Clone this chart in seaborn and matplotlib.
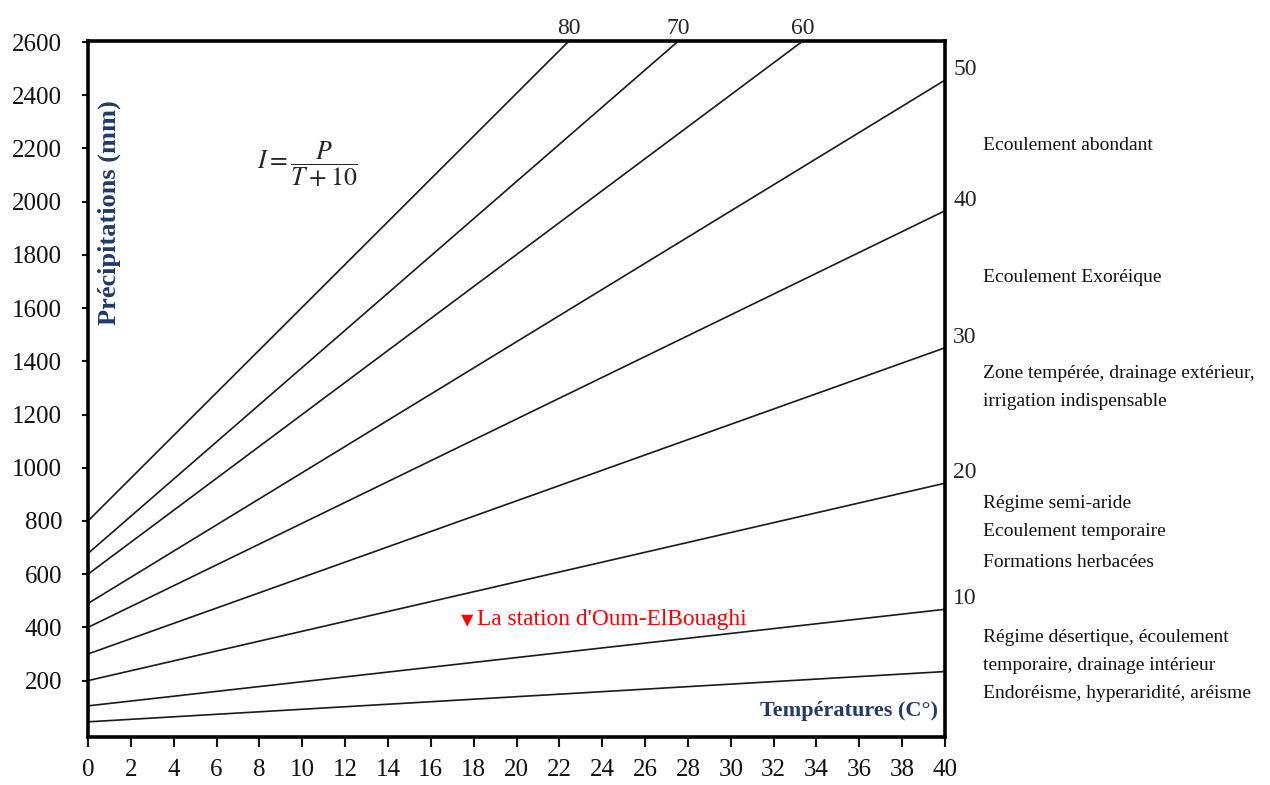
import matplotlib
matplotlib.use("Agg")
import matplotlib.pyplot as plt
import numpy as np
import pandas as pd
import seaborn as sns

# De Martonne aridity index lines (I = P / (T + 10)), each drawn between two end points
index_values = [5, 10, 20, 30, 40, 50, 60, 70, 80]
t_start = [0, 0, 0, 0, 0, 0, 0, 0, 0]
p_start = [45, 105, 200, 300, 400, 490, 600, 678, 800]
t_end = [40, 40, 40, 40, 40, 40, 33.3, 27.5, 22.4]
p_end = [234, 468, 942, 1451, 1966, 2457, 2600, 2600, 2600]

# lines labelled at the top edge and at the right edge
top_labels = [80, 70, 60]
right_labels = [50, 40, 30, 20, 10]

# station position (mean temperature, annual precipitation)
station_name = "La station d'Oum-ElBouaghi"
station_t = [17.7]
station_p = [425]

x_ticks = list(range(0, 41, 2))
y_ticks = list(range(200, 2601, 200))

# climate regime descriptions to the right of the frame (text, baseline pixel row)
regime_lines = [
    ("Ecoulement abondant", 150),
    ("Ecoulement Exoréique", 282),
    ("Zone tempérée, drainage extérieur,", 378),
    ("irrigation indispensable", 406),
    ("Régime semi-aride", 508),
    ("Ecoulement temporaire", 536),
    ("Formations herbacées", 567),
    ("Régime désertique, écoulement", 642),
    ("temporaire, drainage intérieur", 670),
    ("Endoréisme, hyperaridité, aréisme", 698),
]

sns.set_theme(style="white")
plt.rcParams["font.family"] = ["Liberation Serif", "DejaVu Serif"]
plt.rcParams["mathtext.fontset"] = "stix"

W, H = 1270, 785
fig = plt.figure(figsize=(W / 100, H / 100), dpi=100)
fig.patch.set_facecolor("white")
ax = fig.add_axes([88 / W, 1 - 737 / H, (945 - 88) / W, (737 - 41) / H])
ax.set_facecolor("white")

rows = []
for i, ts, ps, te, pe in zip(index_values, t_start, p_start, t_end, p_end):
    rows.append({"I": i, "T": ts, "P": ps})
    rows.append({"I": i, "T": te, "P": pe})
lines_df = pd.DataFrame(rows)

sns.lineplot(data=lines_df, x="T", y="P", hue="I", units="I", estimator=None,
             palette=["#1a1a1a"] * len(index_values), linewidth=1.2,
             legend=False, ax=ax)

station_df = pd.DataFrame({"T": station_t, "P": station_p})
sns.scatterplot(data=station_df, x="T", y="P", marker="v", color="#ff0000",
                s=75, edgecolor="none", ax=ax, zorder=5)
ax.annotate(station_name, xy=(station_t[0], station_p[0]), xytext=(7, -3),
            textcoords="offset points", ha="left", va="baseline",
            color="#ff0000", fontsize=16.8)

ax.set_xlim(0, 40)
ax.set_ylim(-12, 2604)
ax.set_xticks(x_ticks)
ax.set_yticks(y_ticks)
ax.set_xticklabels([str(v) for v in x_ticks], fontsize=18)
ax.set_yticklabels([str(v) for v in y_ticks], fontsize=18)
ax.tick_params(axis="x", direction="out", length=7, width=1.5, pad=8.5,
               colors="#111111", bottom=True)
ax.tick_params(axis="y", direction="out", length=4.5, width=1.5, pad=14,
               colors="#111111", left=True)
ax.set_xlabel("")
ax.set_ylabel("")
for side in ["left", "right", "top", "bottom"]:
    ax.spines[side].set_visible(True)
    ax.spines[side].set_color("black")
    ax.spines[side].set_linewidth(2.6)

# index labels at the line ends
for i, te, pe in zip(index_values, t_end, p_end):
    if i in top_labels:
        ax.annotate(str(i), xy=(te, pe), xytext=(1, 2), textcoords="offset points",
                    ha="center", va="bottom", fontsize=17, annotation_clip=False)
    elif i in right_labels:
        ax.annotate(str(i), xy=(te, pe), xytext=(6, 0), textcoords="offset points",
                    ha="left", va="bottom", fontsize=17, annotation_clip=False)

# formula
ax.text(307 / W, 1 - 164 / H, r"$I=\dfrac{P}{T+10}$", transform=fig.transFigure,
        ha="center", va="center", fontsize=18.5)

# axis titles drawn inside the frame
navy = "#1f3a6b"
fig.text(109 / W, 1 - 213 / H, "Précipitations (mm)", rotation=90, ha="center",
         va="center", fontsize=19, fontweight="bold", color=navy)
fig.text(938 / W, 1 - 716 / H, "Températures (C°)", ha="right", va="baseline",
         fontsize=16, fontweight="bold", color=navy)

for text, base in regime_lines:
    fig.text(983 / W, 1 - base / H, text, ha="left", va="baseline",
             fontsize=14, color="#111111")

fig.savefig("out.png", dpi=100, facecolor="white")
